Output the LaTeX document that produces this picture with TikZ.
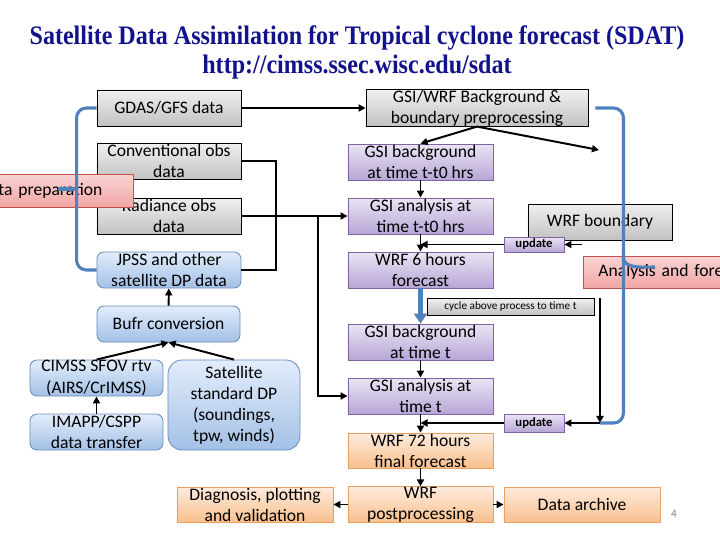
\documentclass[tikz,border=0pt]{standalone}
\usepackage{fontspec}
\usepackage{graphicx}
\setmainfont{Carlito}
\newfontfamily\titlefont{Liberation Serif}
\usepackage{tikz}
\usetikzlibrary{arrows.meta, positioning}
\definecolor{titleblue}{HTML}{12128C}
\definecolor{linkblue}{HTML}{4F81BD}
\definecolor{purpleedge}{HTML}{8064A2}
\definecolor{purpletop}{HTML}{EAE4F4}
\definecolor{purplebot}{HTML}{B7A6D6}
\definecolor{blueedge}{HTML}{6B8EC2}
\definecolor{bluetop}{HTML}{E2EDFB}
\definecolor{bluebot}{HTML}{A3C0E6}
\definecolor{orangeedge}{HTML}{E8A060}
\definecolor{orangetop}{HTML}{FDEBDD}
\definecolor{orangebot}{HTML}{F9C08E}
\definecolor{pinkedge}{HTML}{C0504D}
\definecolor{pinktop}{HTML}{F9D3D3}
\definecolor{pinkbot}{HTML}{F2A6A6}
\tikzset{
  box/.style={
    rectangle, draw=black, line width=0.6pt, inner sep=0pt, align=center,
    minimum width=3.6cm, minimum height=0.9cm,
    font=\fontsize{12.5}{15}\selectfont
  },
  graybox/.style={box, top color=gray!12, bottom color=gray!48},
  purplebox/.style={box, draw=purpleedge, top color=purpletop, bottom color=purplebot},
  bluebox/.style={box, rounded corners=5pt, draw=blueedge, top color=bluetop, bottom color=bluebot},
  orangebox/.style={box, draw=orangeedge, top color=orangetop, bottom color=orangebot},
  pinkbox/.style={box, draw=pinkedge, top color=pinktop, bottom color=pinkbot, align=left},
  updatebox/.style={purplebox, minimum width=1.5cm, minimum height=0.4cm,
    font=\fontsize{9}{10}\selectfont\bfseries},
  arrow/.style={-{Triangle[length=5pt,width=5pt]}, line width=1.4pt},
  link/.style={line width=1.4pt},
  brace/.style={line width=2.2pt, color=linkblue, rounded corners=7pt},
  bigarrow/.style={-{Triangle[length=7pt,width=9pt]}, line width=4pt, color=linkblue}
}

\begin{document}
\begin{tikzpicture}[x=0.025cm, y=-0.025cm]
  \useasboundingbox (0,0) rectangle (720,540);
  \clip (0,0) rectangle (720,540);
  \fill[white] (0,0) rectangle (720,540);

  \node[font=\titlefont\bfseries\fontsize{19}{22}\selectfont, text=titleblue] (title) at (357,38)
    {\scalebox{0.9}[1]{Satellite Data Assimilation for Tropical cyclone forecast (SDAT)}};
  \node[font=\titlefont\bfseries\fontsize{19}{22}\selectfont, text=titleblue] (url) at (357,67)
    {\scalebox{0.9}[1]{http://cimss.ssec.wisc.edu/sdat}};

  \node[graybox] (gdas) at (169,108) {GDAS/GFS data};
  \node[graybox] (conv) at (169,161) {Conventional obs\\data};
  \node[graybox] (rad) at (169,216) {Radiance obs\\data};
  \node[bluebox] (jpss) at (169,270) {JPSS and other\\satellite DP data};
  \node[pinkbox, anchor=west, minimum width=4.125cm, minimum height=0.825cm,
    text width=3.575cm, inner xsep=0.275cm] (dataprep) at (-32,190.5) {Data preparation};

  \node[bluebox, minimum width=3.575cm] (bufr) at (168.5,324) {Bufr conversion};
  \node[bluebox, minimum width=3.325cm] (cimss) at (96.5,378) {CIMSS SFOV rtv\\(AIRS/CrIMSS)};
  \node[bluebox, minimum width=3.325cm] (imapp) at (96.5,432) {IMAPP/CSPP\\data transfer};
  \node[bluebox, rounded corners=10pt, minimum width=3.3cm, minimum height=2.25cm] (satdp) at (234,405)
    {Satellite\\standard DP\\(soundings,\\tpw, winds)};
  \node[orangebox, minimum width=3.9cm, minimum height=0.875cm] (diag) at (255,504.5)
    {Diagnosis, plotting\\and validation};

  \node[graybox, minimum width=5.55cm] (gsiwrf) at (477,108) {GSI/WRF Background \&\\boundary preprocessing};
  \node[purplebox, minimum width=3.625cm] (bgtz) at (420.5,162) {GSI background\\at time t-t0 hrs};
  \node[purplebox, minimum width=3.625cm] (antz) at (420.5,216) {GSI analysis at\\time t-t0 hrs};
  \node[purplebox, minimum width=3.625cm] (wrfsix) at (420.5,270) {WRF 6 hours\\forecast};
  \node[graybox] (wrfbnd) at (600,222) {WRF boundary};
  \node[updatebox, minimum height=0.375cm] (updA) at (534,244.5) {update};
  \node[pinkbox, anchor=west, minimum width=5.75cm, minimum height=0.8cm,
    text width=5cm, inner xsep=0.375cm] (anafc) at (583,272) {Analysis and forecast};
  \node[graybox, minimum width=4.175cm, minimum height=0.425cm,
    font=\fontsize{8}{9}\selectfont] (cycle) at (510.5,306.5) {cycle above process to time t};

  \node[purplebox, minimum width=3.625cm] (bgt) at (420.5,342) {GSI background\\at time t};
  \node[purplebox, minimum width=3.625cm] (ant) at (420.5,396) {GSI analysis at\\time t};
  \node[updatebox, minimum height=0.45cm] (updB) at (534,423) {update};
  \node[orangebox, minimum width=3.625cm, minimum height=0.875cm] (wrfsev) at (420.5,450.5)
    {WRF 72 hours\\final forecast};
  \node[orangebox, minimum width=3.625cm, minimum height=0.875cm] (post) at (420.5,504.5)
    {WRF\\postprocessing};
  \node[orangebox, minimum width=3.9cm, minimum height=0.875cm] (archive) at (582,504.5) {Data archive};
  \node[font=\fontsize{8}{9}\selectfont, text=gray] (pagenum) at (674,514) {4};

  \coordinate (radsplit) at (318,216);
  \coordinate (bndtip) at (599,150);
  \coordinate (bndout) at (582,244.5);
  \coordinate (cyctop) at (600,298);
  \coordinate (cycbot) at (600,423);
  \coordinate (lspur) at (77,189);
  \coordinate (rspur) at (623,256);

  \draw[arrow] (gdas) -- (gsiwrf);
  \draw[link] (conv.east) -- ++(35,0) |- (jpss.east);
  \draw[arrow] (rad) -- (antz);
  \draw[arrow] (radsplit) |- (ant.west);
  \draw[arrow] (gsiwrf.south) -- (bgtz.north);
  \draw[arrow] (gsiwrf.south) -- (bndtip);
  \draw[arrow] (bgtz) -- (antz);
  \draw[arrow] (antz) -- (wrfsix);
  \draw[arrow] (bndout) -- (updA.east);
  \draw[arrow] (updA.west) -- (updA.west -| wrfsix.north);
  \draw[bigarrow] (wrfsix) -- (bgt);
  \draw[arrow] (cyctop) -- (cycbot);
  \draw[arrow] (cycbot) -- (updB.east);
  \draw[arrow] (updB.west) -- (updB.west -| ant.south);
  \draw[arrow] (bgt) -- (ant);
  \draw[arrow] (ant) -- (wrfsev);
  \draw[arrow] (wrfsev) -- (post);
  \draw[arrow] (post) -- (diag);
  \draw[arrow] (post) -- (archive);
  \draw[arrow] (bufr) -- (jpss);
  \draw[arrow] (cimss.north) -- (bufr.south);
  \draw[arrow] (satdp.north) -- (bufr.south);
  \draw[arrow] (imapp) -- (cimss);

  \draw[brace] (gdas.west) -- ++(-20,0) |- (jpss.west);
  \draw[brace] (lspur) -- ++(-19,0);
  \draw[brace] (gsiwrf.east) ++(7,0) -- ++(28,0) |- (cycbot);
  \draw[brace] (rspur) to[out=-90, in=180] ++(32,11);
\end{tikzpicture}
\end{document}
